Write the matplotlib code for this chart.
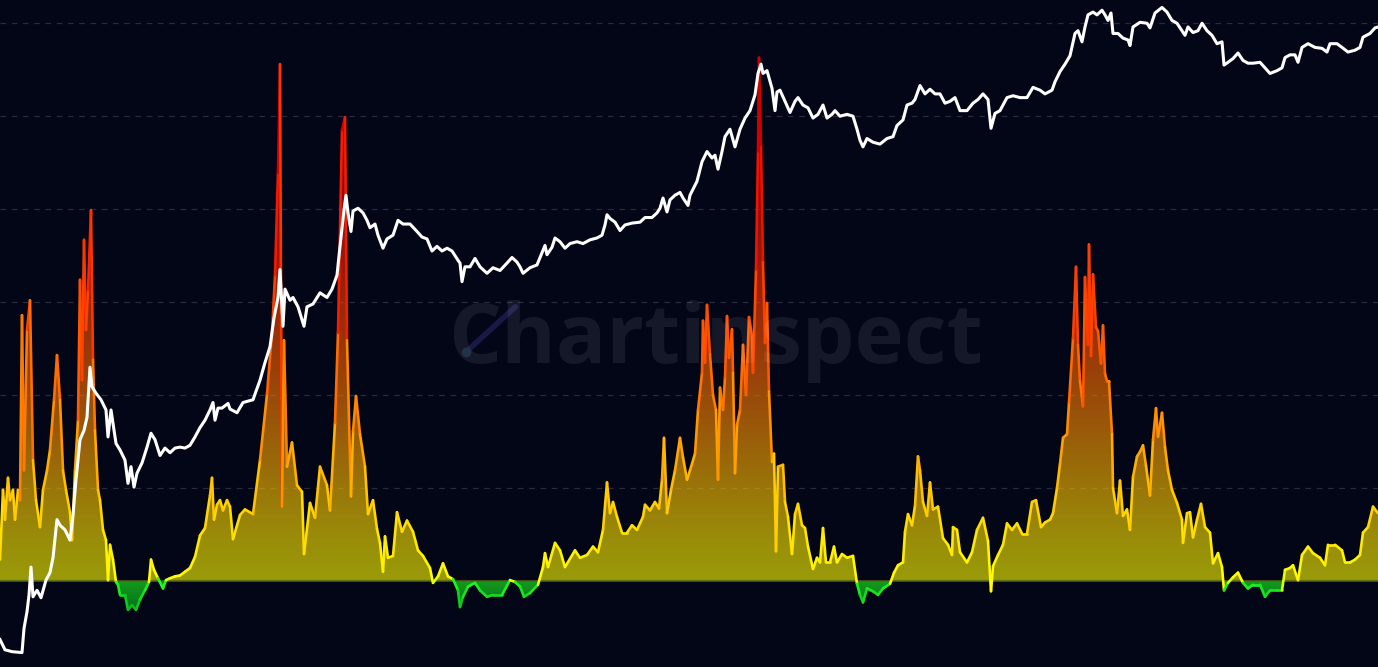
import numpy as np
import matplotlib
matplotlib.use("Agg")
import matplotlib.pyplot as plt
from matplotlib.collections import LineCollection
from matplotlib.colors import LinearSegmentedColormap, Normalize
from matplotlib.lines import Line2D

# oscillator (time index, value)
osc_t = [0, 3, 5, 8, 10, 13, 15, 18, 20, 22, 24, 27, 30, 33, 36, 40, 43, 47, 50, 54,
         57, 60, 63, 66, 70, 72, 75, 78, 80, 82, 84, 86, 88, 91, 93, 95, 98, 100, 103, 106,
         108, 110, 113, 116, 118, 120, 125, 128, 132, 136, 140, 145, 149, 151, 154, 158, 163, 166, 170, 175,
         180, 185, 190, 195, 200, 205, 210, 212, 214, 217, 220, 223, 227, 230, 233, 240, 245, 253, 260, 267,
         272, 275, 278, 280, 282, 284, 287, 292, 297, 302, 304, 310, 315, 320, 327, 330, 335, 338, 342, 345,
         347, 351, 353, 356, 360, 365, 368, 373, 377, 380, 383, 385, 388, 393, 397, 402, 407, 413, 418, 423,
         430, 433, 438, 443, 448, 453, 458, 460, 463, 468, 475, 480, 487, 493, 502, 510, 515, 520, 524, 530,
         538, 543, 545, 548, 555, 560, 565, 575, 580, 587, 593, 598, 603, 607, 610, 613, 617, 622, 627, 632,
         637, 643, 645, 650, 655, 659, 662, 664, 667, 671, 675, 680, 683, 687, 690, 695, 698, 702, 703, 705,
         707, 710, 713, 716, 718, 720, 723, 725, 727, 729, 732, 733, 735, 737, 740, 743, 746, 749, 752, 753,
         756, 758, 759, 761, 763, 765, 767, 769, 772, 774, 776, 778, 783, 785, 788, 792, 795, 798, 802, 805,
         808, 813, 817, 820, 823, 826, 830, 834, 837, 842, 847, 853, 857, 860, 863, 867, 873, 878, 883, 890,
         894, 898, 903, 905, 908, 912, 915, 918, 920, 923, 927, 930, 933, 938, 943, 948, 952, 953, 957, 960,
         967, 972, 977, 983, 988, 991, 993, 998, 1003, 1007, 1012, 1017, 1022, 1027, 1032, 1036, 1041, 1045, 1050, 1053,
         1057, 1060, 1063, 1067, 1069, 1073, 1076, 1078, 1080, 1083, 1085, 1088, 1089, 1091, 1093, 1096, 1098, 1101, 1103, 1105,
         1107, 1109, 1112, 1113, 1117, 1120, 1123, 1127, 1130, 1133, 1137, 1140, 1143, 1146, 1150, 1153, 1156, 1158, 1162, 1165,
         1168, 1172, 1177, 1182, 1183, 1187, 1190, 1193, 1197, 1201, 1205, 1210, 1213, 1218, 1222, 1224, 1228, 1233, 1238, 1243,
         1248, 1253, 1260, 1265, 1270, 1277, 1282, 1285, 1290, 1293, 1298, 1302, 1308, 1313, 1320, 1325, 1328, 1335, 1342, 1345,
         1350, 1355, 1360, 1363, 1368, 1373, 1378]
osc_v = [0.23, 0.98, 0.66, 1.11, 0.87, 0.98, 0.66, 0.98, 0.87, 2.86, 1.19, 2.70, 3.02, 1.30, 0.87, 0.58, 0.98, 1.19, 1.41, 1.95,
         2.43, 1.95, 1.19, 0.98, 0.74, 0.44, 1.19, 1.73, 3.24, 2.16, 3.67, 2.70, 3.13, 3.99, 2.38, 1.62, 0.98, 0.87, 0.55, 0.44,
         0.01, 0.39, 0.23, -0.01, -0.04, -0.15, -0.15, -0.31, -0.26, -0.31, -0.20, -0.10, -0.01, 0.23, 0.12, 0.03, -0.08, 0.01, 0.03, 0.05,
         0.06, 0.10, 0.14, 0.26, 0.49, 0.57, 0.92, 1.11, 0.66, 0.82, 0.87, 0.76, 0.87, 0.80, 0.45, 0.71, 0.77, 0.72, 1.30, 2.01,
         2.67, 3.29, 4.39, 5.56, 0.80, 2.59, 1.23, 1.49, 1.03, 0.96, 0.29, 0.84, 0.68, 1.23, 1.03, 0.76, 1.70, 2.67, 4.85, 4.99,
         2.59, 0.91, 1.61, 1.99, 1.58, 1.23, 0.72, 0.87, 0.56, 0.41, 0.10, 0.48, 0.25, 0.27, 0.74, 0.53, 0.65, 0.53, 0.33, 0.27,
         0.14, -0.02, 0.05, 0.19, 0.05, 0.02, -0.10, -0.28, -0.17, -0.06, -0.02, -0.10, -0.17, -0.15, -0.15, 0.01, -0.01, -0.06, -0.17, -0.13,
         -0.04, 0.15, 0.30, 0.15, 0.41, 0.33, 0.15, 0.33, 0.25, 0.28, 0.37, 0.31, 0.55, 1.06, 0.73, 0.85, 0.69, 0.52, 0.52, 0.60,
         0.55, 0.69, 0.82, 0.76, 0.85, 0.78, 1.09, 1.54, 0.73, 0.98, 1.19, 1.54, 1.33, 1.09, 1.19, 1.37, 1.84, 2.24, 2.80, 2.35,
         2.97, 2.44, 2.00, 1.84, 1.09, 2.08, 1.84, 2.19, 2.85, 2.40, 2.71, 2.24, 1.16, 1.68, 1.84, 2.54, 2.00, 2.84, 2.63, 2.24,
         3.35, 4.62, 5.63, 4.67, 3.43, 2.56, 2.99, 2.04, 1.28, 1.37, 0.32, 1.23, 1.25, 0.85, 0.69, 0.29, 0.72, 0.83, 0.60, 0.57,
         0.37, 0.13, 0.25, 0.20, 0.57, 0.20, 0.20, 0.37, 0.20, 0.29, 0.25, 0.27, -0.03, -0.15, -0.23, -0.08, -0.11, -0.15, -0.08, -0.03,
         0.09, 0.17, 0.20, 0.53, 0.72, 0.60, 0.81, 1.34, 1.19, 0.85, 0.70, 1.06, 0.77, 0.80, 0.46, 0.39, 0.28, 0.58, 0.55, 0.31,
         0.20, 0.31, 0.55, 0.68, 0.43, -0.11, 0.16, 0.28, 0.39, 0.62, 0.55, 0.62, 0.51, 0.51, 0.85, 0.87, 0.58, 0.63, 0.66, 0.73,
         1.00, 1.26, 1.54, 1.58, 1.92, 2.61, 3.38, 2.54, 2.15, 1.88, 3.27, 2.54, 3.62, 2.42, 3.30, 2.73, 2.69, 2.34, 2.75, 2.23,
         2.15, 2.15, 1.58, 1.00, 0.73, 1.08, 0.70, 0.77, 0.55, 1.12, 1.34, 1.39, 1.46, 1.24, 0.92, 1.52, 1.86, 1.55, 1.81, 1.44,
         1.19, 0.98, 0.84, 0.66, 0.41, 0.73, 0.74, 0.47, 0.66, 0.83, 0.58, 0.52, 0.19, 0.30, 0.15, -0.10, -0.02, 0.04, 0.09, -0.02,
         -0.08, -0.04, -0.04, -0.17, -0.10, -0.10, -0.10, 0.12, 0.14, 0.17, 0.01, 0.28, 0.37, 0.30, 0.25, 0.17, 0.39, 0.39, 0.33, 0.20,
         0.20, 0.23, 0.28, 0.52, 0.58, 0.80, 0.73]

# price line (log scale, chart units)
price_t = [0, 5, 12, 22, 24, 27, 29, 31, 33, 37, 41, 46, 50, 53, 57, 60, 65, 70, 73, 76,
           80, 84, 87, 90, 92, 96, 101, 106, 108, 111, 116, 120, 125, 128, 131, 134, 137, 142, 147, 151,
           155, 160, 165, 170, 175, 180, 185, 190, 195, 200, 205, 210, 213, 215, 218, 222, 228, 230, 237, 243,
           253, 260, 265, 270, 274, 278, 280, 283, 285, 290, 293, 298, 304, 307, 313, 320, 327, 332, 337, 340,
           344, 346, 348, 351, 353, 358, 363, 367, 370, 375, 378, 383, 387, 393, 398, 403, 410, 417, 422, 427,
           432, 437, 442, 447, 452, 458, 460, 462, 465, 470, 475, 480, 487, 493, 500, 507, 512, 517, 520, 523,
           530, 537, 542, 545, 547, 552, 555, 560, 565, 570, 577, 583, 590, 597, 602, 605, 607, 610, 615, 620,
           625, 632, 640, 645, 652, 657, 660, 663, 667, 670, 675, 680, 683, 688, 690, 697, 702, 707, 712, 715,
           718, 722, 725, 730, 735, 740, 745, 750, 755, 758, 761, 763, 767, 772, 775, 777, 780, 785, 790, 795,
           798, 803, 808, 813, 818, 823, 827, 832, 835, 840, 847, 853, 857, 860, 863, 867, 873, 880, 887, 893,
           897, 903, 907, 912, 915, 920, 925, 930, 935, 940, 945, 950, 955, 960, 967, 973, 978, 983, 988, 991,
           995, 1000, 1007, 1013, 1020, 1027, 1033, 1040, 1045, 1052, 1055, 1060, 1065, 1070, 1075, 1078, 1082, 1085, 1088, 1093,
           1097, 1102, 1105, 1108, 1111, 1113, 1118, 1123, 1128, 1130, 1133, 1140, 1147, 1150, 1155, 1162, 1167, 1172, 1177, 1182,
           1185, 1188, 1193, 1198, 1202, 1207, 1212, 1217, 1222, 1224, 1228, 1233, 1238, 1243, 1248, 1253, 1260, 1265, 1270, 1277,
           1282, 1285, 1290, 1295, 1298, 1302, 1308, 1315, 1322, 1327, 1330, 1337, 1342, 1348, 1355, 1360, 1363, 1370, 1375, 1378]
price_v = [-0.63, -0.74, -0.76, -0.77, -0.51, -0.33, -0.15, 0.15, -0.17, -0.10, -0.18, 0.01, 0.09, 0.25, 0.66, 0.60, 0.55, 0.44, 0.71, 1.09,
           1.52, 1.62, 1.76, 2.30, 2.09, 2.02, 1.95, 1.84, 1.55, 1.84, 1.48, 1.41, 1.30, 1.05, 1.23, 1.01, 1.16, 1.27, 1.44, 1.59,
           1.52, 1.35, 1.43, 1.38, 1.43, 1.44, 1.43, 1.46, 1.55, 1.65, 1.73, 1.84, 1.92, 1.73, 1.86, 1.86, 1.91, 1.85, 1.81, 1.92,
           1.95, 2.16, 2.35, 2.52, 2.83, 3.05, 3.35, 2.74, 3.14, 3.02, 3.05, 2.95, 2.74, 2.95, 2.98, 3.10, 3.05, 3.14, 3.29, 3.60,
           3.99, 4.15, 3.96, 3.76, 3.98, 4.01, 3.96, 3.88, 3.80, 3.84, 3.72, 3.58, 3.68, 3.72, 3.88, 3.84, 3.84, 3.76, 3.70, 3.68,
           3.55, 3.60, 3.55, 3.58, 3.55, 3.45, 3.42, 3.22, 3.38, 3.38, 3.47, 3.38, 3.31, 3.37, 3.34, 3.42, 3.48, 3.43, 3.38, 3.31,
           3.37, 3.40, 3.53, 3.61, 3.51, 3.59, 3.69, 3.65, 3.58, 3.63, 3.65, 3.63, 3.67, 3.69, 3.72, 3.83, 3.94, 3.90, 3.86, 3.77,
           3.83, 3.85, 3.86, 3.91, 3.91, 3.96, 4.01, 4.12, 3.97, 4.10, 4.15, 4.18, 4.12, 4.04, 4.15, 4.30, 4.51, 4.62, 4.55, 4.58,
           4.43, 4.62, 4.78, 4.86, 4.67, 4.86, 4.98, 5.06, 5.23, 5.46, 5.56, 5.46, 5.49, 5.30, 5.06, 5.26, 5.28, 5.16, 5.04, 5.16,
           5.20, 5.12, 5.09, 4.98, 5.02, 5.12, 4.98, 5.02, 5.06, 5.00, 5.02, 5.00, 4.86, 4.74, 4.67, 4.76, 4.72, 4.70, 4.76, 4.78,
           4.90, 4.96, 5.12, 5.14, 5.18, 5.33, 5.24, 5.29, 5.24, 5.24, 5.14, 5.16, 5.20, 5.06, 5.06, 5.14, 5.18, 5.24, 5.18, 4.87,
           5.03, 5.06, 5.20, 5.22, 5.20, 5.20, 5.31, 5.28, 5.24, 5.28, 5.37, 5.48, 5.56, 5.65, 5.89, 5.92, 5.80, 5.96, 6.09, 6.12,
           6.09, 6.14, 6.09, 6.03, 6.11, 5.89, 5.89, 5.84, 5.82, 5.76, 5.96, 6.01, 6.00, 5.95, 6.11, 6.17, 6.12, 6.03, 6.00, 5.92,
           5.87, 5.96, 5.90, 5.92, 6.00, 5.92, 5.87, 5.78, 5.80, 5.55, 5.58, 5.62, 5.68, 5.60, 5.57, 5.57, 5.58, 5.52, 5.46, 5.49,
           5.52, 5.63, 5.66, 5.66, 5.58, 5.74, 5.78, 5.74, 5.73, 5.69, 5.78, 5.78, 5.74, 5.69, 5.71, 5.74, 5.85, 5.89, 5.95, 5.96]

grid_levels = [1, 2, 3, 4, 5, 6]

bg = "#020617"
vmin, vmax = -0.4, 5.6
# zero sits at 0.4 / 6.0 = 0.0667 of the colour range
heat = LinearSegmentedColormap.from_list("heat", [
    (0.00, "#00a818"),
    (0.066, "#22ff22"),
    (0.0668, "#ffff00"),
    (0.14, "#ffe800"),
    (0.24, "#ffbe00"),
    (0.38, "#ff8000"),
    (0.52, "#ff4c00"),
    (0.66, "#ff2200"),
    (0.82, "#e00000"),
    (1.00, "#c40000"),
])
norm = Normalize(vmin, vmax)

fig = plt.figure(figsize=(13.78, 6.67), dpi=100, facecolor=bg)
ax = fig.add_axes([0, 0, 1, 1])
ax.set_facecolor(bg)
ax.set_xlim(0, 1378)
ax.set_ylim(-0.925, 6.25)
ax.axis("off")

for g in grid_levels:
    ax.axhline(g, color="#262a3a", lw=0.9, ls=(0, (4.5, 4.5)), zorder=1)

# watermark
fig.text(0.519, 0.456, "Chartinspect", ha="center", va="baseline",
         fontsize=60, fontweight="bold", family="Open Sans",
         color="white", alpha=0.075, zorder=0)
fig.add_artist(Line2D([0.338, 0.374], [0.472, 0.540], transform=fig.transFigure,
                      color="#1b1746", lw=4, solid_capstyle="round", zorder=0))
fig.add_artist(Line2D([0.338], [0.472], transform=fig.transFigure, marker="o",
                      ms=6, color="#0f2438", zorder=0))

# gradient fill clipped to the oscillator area
t = np.array(osc_t, dtype=float)
v = np.array(osc_v)
poly = ax.fill_between(t, v, 0, color="none", lw=0)
grad = np.linspace(-0.925, 6.25, 800).reshape(-1, 1)
img = ax.imshow(grad, cmap=heat, norm=norm, origin="lower", aspect="auto",
                extent=[0, 1378, -0.925, 6.25], alpha=0.6, zorder=2,
                interpolation="nearest")
img.set_clip_path(poly.get_paths()[0], transform=ax.transData)

ax.axhline(0, color="#56641a", lw=1.1, zorder=3)

# value coloured line
pts = np.column_stack([t, v]).reshape(-1, 1, 2)
segs = np.concatenate([pts[:-1], pts[1:]], axis=1)
lc = LineCollection(segs, cmap=heat, norm=norm, linewidths=1.9,
                    capstyle="round", joinstyle="round", zorder=4)
lc.set_array((v[:-1] + v[1:]) / 2)
ax.add_collection(lc)

ax.plot(price_t, price_v, color="white", lw=2.2, zorder=5, solid_joinstyle="round")

fig.savefig("out.png", dpi=100, facecolor=bg)
